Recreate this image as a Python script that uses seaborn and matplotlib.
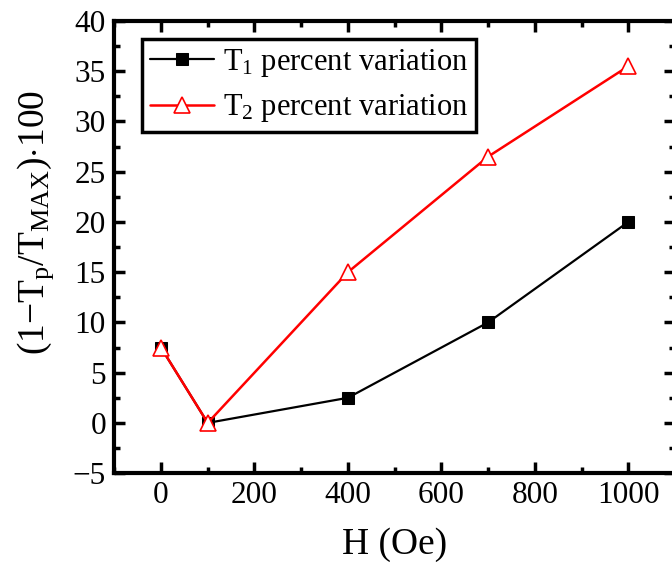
import matplotlib
matplotlib.use("Agg")
import matplotlib.pyplot as plt
import seaborn as sns
import pandas as pd
from matplotlib.ticker import MultipleLocator

H = [0, 100, 400, 700, 1000]
T1 = [7.5, 0.0, 2.5, 10.0, 20.0]
T2 = [7.5, 0.0, 15.0, 26.5, 35.5]

sns.set_style("ticks")
plt.rcParams['font.family'] = ['Liberation Serif', 'DejaVu Serif']
plt.rcParams['mathtext.fontset'] = 'custom'
plt.rcParams['mathtext.rm'] = 'Liberation Serif'
plt.rcParams['mathtext.it'] = 'Liberation Serif:italic'
for k in ['text.color', 'axes.labelcolor', 'xtick.color', 'ytick.color', 'axes.edgecolor']:
    plt.rcParams[k] = 'black'

fig = plt.figure(figsize=(6.72, 5.77), dpi=100)
ax = fig.add_axes([0.170, 0.180, 0.8345, 0.7836])

df = pd.DataFrame({'H': H, 'T1': T1, 'T2': T2})
sns.lineplot(data=df, x='H', y='T1', ax=ax, color='black', lw=1.6,
             marker='s', markersize=8.5, markeredgecolor='black',
             label=r'T$_1$ percent variation')
sns.lineplot(data=df, x='H', y='T2', ax=ax, color='red', lw=1.8,
             marker='^', markersize=11, markerfacecolor='white',
             markeredgecolor='red', markeredgewidth=1.2,
             label=r'T$_2$ percent variation')

ax.set_xlim(-100, 1100)
ax.set_ylim(-5, 40)
ax.xaxis.set_major_locator(MultipleLocator(200))
ax.xaxis.set_minor_locator(MultipleLocator(100))
ax.yaxis.set_major_locator(MultipleLocator(5))
ax.yaxis.set_minor_locator(MultipleLocator(2.5))
ax.tick_params(which='both', direction='in', top=True, right=True, width=2.5,
               labelsize=22.5, pad=6, colors='black')
ax.tick_params(which='major', length=8)
ax.tick_params(which='minor', length=4)
for s in ax.spines.values():
    s.set_linewidth(3)
    s.set_color('black')
    s.set_visible(True)

ax.set_xlabel('H (Oe)', fontsize=27, labelpad=12)
ax.set_ylabel(r'(1$-$T$_\mathrm{p}$/T$_\mathrm{MAX}$)$\cdot$100', fontsize=27)
ax.yaxis.set_label_coords(-0.103, 0.555)

leg = ax.legend(loc='upper left', bbox_to_anchor=(0.05, 0.96), fontsize=22,
                frameon=True, fancybox=False, framealpha=1, edgecolor='black',
                handlelength=2.1, handletextpad=0.3, borderpad=0.25,
                labelspacing=0.45, borderaxespad=0)
leg.get_frame().set_linewidth(2.5)
for t in leg.get_texts():
    t.set_color('black')

fig.savefig('out.png', dpi=100)
